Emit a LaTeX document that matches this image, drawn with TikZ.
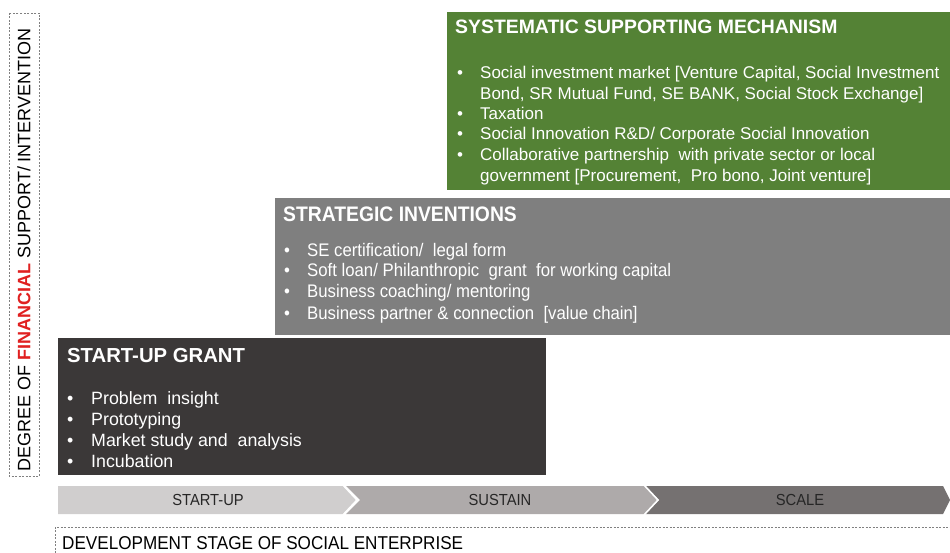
\documentclass[tikz,border=0pt]{standalone}
\usepackage{fontspec}
\setmainfont{Liberation Sans}
\newfontfamily\narrowf[FakeStretch=0.92]{Liberation Sans}
\definecolor{sgreen}{HTML}{548235}
\definecolor{sgray}{HTML}{7F7F7F}
\definecolor{sdark}{HTML}{3B3838}
\definecolor{cOne}{HTML}{D0CECE}
\definecolor{cTwo}{HTML}{AEAAAA}
\definecolor{cThree}{HTML}{757171}
\definecolor{dashc}{HTML}{808080}
\definecolor{fred}{HTML}{E02020}
\tikzset{
  panel/.style={draw=none, rectangle, inner sep=0pt, anchor=north west},
  gtitle/.style={anchor=base west, inner sep=0pt, text=white, font=\fontsize{19.4}{22}\selectfont\bfseries},
  gitem/.style={anchor=base west, inner sep=0pt, text=white, font=\fontsize{17}{20}\selectfont},
  dtitle/.style={anchor=base west, inner sep=0pt, text=white, font=\fontsize{20.3}{23}\selectfont\bfseries},
  ditem/.style={anchor=base west, inner sep=0pt, text=white, font=\fontsize{17.8}{21}\selectfont},
  ntitle/.style={anchor=base west, inner sep=0pt, text=white, font=\narrowf\fontsize{21}{24}\selectfont\bfseries},
  nitem/.style={anchor=base west, inner sep=0pt, text=white, font=\narrowf\fontsize{18.2}{21}\selectfont},
  chevlabel/.style={inner sep=0pt, text=black!85, font=\narrowf\fontsize{16}{18}\selectfont},
  dashline/.style={draw=dashc, line width=0.7pt, dash pattern=on 2pt off 1.5pt},
}
\begin{document}
\begin{tikzpicture}[x=1pt,y=-1pt]
\useasboundingbox (0,0) rectangle (950,553);
% panels
\node[panel, fill=sgreen, minimum width=503pt, minimum height=178pt] (green) at (447,12) {};
\node[panel, fill=sgray, minimum width=675pt, minimum height=137pt] (gray) at (275,198) {};
\node[panel, fill=sdark, minimum width=488pt, minimum height=137pt] (dark) at (58,338) {};
% green text
\node[gtitle] (gt) at (455,34) {SYSTEMATIC SUPPORTING MECHANISM};
\foreach \y/\t [count=\i] in {78.2/{Social investment market [Venture Capital, Social Investment},
  99.2/{Bond, SR Mutual Fund, SE BANK, Social Stock Exchange]},
  119.2/{Taxation},
  139.2/{Social Innovation R\&D/ Corporate Social Innovation},
  160.2/{Collaborative partnership\ \ with private sector or local},
  181.2/{government [Procurement,\ \ Pro bono, Joint venture]}}
  \node[gitem] (gl\i) at (480,\y) {\t};
\foreach \y [count=\i] in {78.2,119.2,139.2,160.2}
  \node[gitem] (gb\i) at (457,\y) {•};
% gray text
\node[ntitle] (st) at (283,221.5) {STRATEGIC INVENTIONS};
\foreach \y/\t [count=\i] in {256.6/{SE certification/\ \ legal form},
  276.6/{Soft loan/ Philanthropic\ \ grant\ \ for working capital},
  297.6/{Business coaching/ mentoring},
  319.6/{Business partner \& connection\ \ [value chain]}}
  {\node[nitem] (sl\i) at (307,\y) {\t};
   \node[nitem] (sb\i) at (284,\y) {•};}
% dark text
\node[dtitle] (dt) at (67,362.3) {START-UP GRANT};
\foreach \y/\t [count=\i] in {404.4/{Problem\ \ insight},
  425.4/{Prototyping},
  446.4/{Market study and\ \ analysis},
  467.4/{Incubation}}
  {\node[ditem] (dl\i) at (91,\y) {\t};
   \node[ditem] (db\i) at (67,\y) {•};}
% chevrons
\fill[cThree] (645,486) -- (943,486) -- (950,500) -- (943,514) -- (645,514) -- (659,500) -- cycle;
\fill[cTwo] (346,486) -- (644,486) -- (658,500) -- (644,514) -- (346,514) -- (360,500) -- cycle;
\fill[cOne] (58,486) -- (343,486) -- (357,500) -- (343,514) -- (58,514) -- cycle;
\draw[white, line width=1.6pt] (343,485) -- (357,500) -- (343,515);
\draw[white, line width=1.6pt] (644,485) -- (658,500) -- (644,515);
\node[chevlabel] (c1) at (208,500) {START-UP};
\node[chevlabel] (c2) at (500,500) {SUSTAIN};
\node[chevlabel] (c3) at (800,500) {SCALE};
% bottom axis
\draw[dashline] (55,553) -- (55,527) -- (950,527);
\node[anchor=base west, inner sep=0pt, text=black, font=\narrowf\fontsize{18.6}{21}\selectfont] (xl) at (62,549.5) {DEVELOPMENT STAGE OF SOCIAL ENTERPRISE};
% left axis
\draw[dashline] (9,13) rectangle (39,476);
\node[rotate=90, inner sep=0pt, text=black, font=\fontsize{18}{21}\selectfont] (yl) at (24,250) {DEGREE OF \textcolor{fred}{\bfseries FINANCIAL} SUPPORT/ INTERVENTION};
\end{tikzpicture}
\end{document}
